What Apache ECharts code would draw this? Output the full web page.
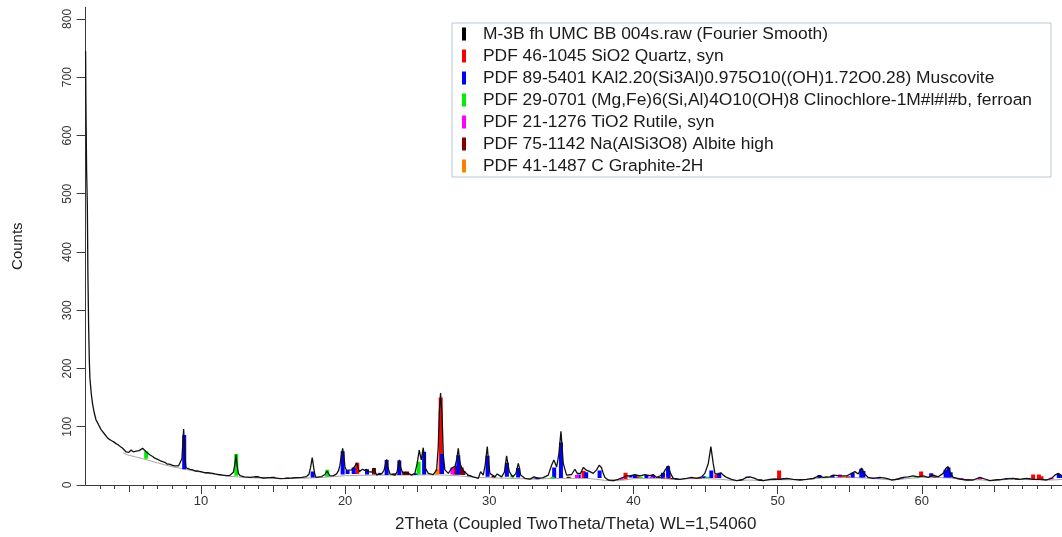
<!DOCTYPE html>
<html>
<head>
<meta charset="utf-8">
<title>XRD M-3B</title>
<script src="https://cdn.jsdelivr.net/npm/echarts@6.0.0/dist/echarts.min.js"></script>
<style>
    html, body { margin: 0; padding: 0; background: #fff; }
    #xrd { width: 1062px; height: 537px; }
</style>
</head>
<body>
<div id="xrd"></div>
<script>
// 测量曲线 (2Theta, Counts)
var curve = [[2.0,745],[2.02,660],[2.07,540],[2.12,480],[2.16,362],[2.21,272],[2.26,212],[2.30,183],[2.40,155],[2.49,138],[2.6,124],[2.72,112],[2.89,104],[3.07,95],[3.2,92],[3.3,88],[3.43,86],[3.55,80],[3.65,81],[3.8,76],[3.95,74],[4.11,71],[4.25,69],[4.4,66],[4.57,63],[4.7,61],[4.8,57],[4.9,59],[5.0,56],[5.15,60],[5.3,57],[5.4,60],[5.5,58],[5.62,61],[5.72,59],[5.84,62],[5.95,63],[6.07,61],[6.2,57],[6.30,54],[6.45,52],[6.55,49],[6.65,49],[6.8,46],[7.0,44],[7.15,42],[7.34,40],[7.5,39],[7.65,36],[7.81,36],[8.0,34],[8.15,33],[8.27,32],[8.45,33],[8.57,35],[8.68,45],[8.74,70],[8.80,96],[8.85,70],[8.90,45],[8.96,30],[9.1,28],[9.25,27],[9.43,26],[9.6,24],[9.8,24],[10.0,23],[10.12,23],[10.3,21],[10.5,21],[10.81,20],[11.0,19],[11.2,18],[11.51,17],[11.75,16],[11.97,16],[12.1,18],[12.25,22],[12.35,35],[12.43,52],[12.5,35],[12.6,20],[12.71,16],[13.0,14],[13.4,13],[13.86,14.5],[14.1,13],[14.33,12],[14.7,12.5],[15.02,12.6],[15.48,11],[15.94,11.5],[16.3,12],[16.64,12.6],[17.0,13],[17.33,14.5],[17.5,19],[17.6,30],[17.72,47],[17.82,30],[17.9,18],[17.98,13],[18.37,14.5],[18.6,18],[18.75,24],[18.95,15.5],[19.2,16],[19.41,19],[19.55,25],[19.64,34],[19.75,52],[19.83,63],[19.92,48],[19.99,31],[20.1,25],[20.22,25],[20.45,26],[20.61,30],[20.72,33],[20.82,38],[20.9,30],[20.98,23],[21.21,27],[21.35,25],[21.49,27],[21.6,23],[21.72,20],[21.85,22],[22.0,29],[22.1,22],[22.19,17],[22.37,20],[22.53,19],[22.7,25],[22.8,36],[22.88,44],[22.97,30],[23.11,19],[23.3,18],[23.46,17],[23.6,22],[23.68,33],[23.76,43],[23.85,30],[23.99,21],[24.1,23],[24.22,21],[24.4,20],[24.61,17],[24.84,20],[25.0,37],[25.14,60],[25.28,43],[25.42,64],[25.56,29],[25.77,20],[26.11,18],[26.35,26],[26.46,66],[26.53,123],[26.62,158],[26.72,123],[26.81,52],[26.92,26],[27.16,20],[27.39,29],[27.62,32],[27.75,45],[27.85,63],[27.93,45],[28.01,34],[28.2,25],[28.54,17],[28.89,14],[29.24,11.5],[29.4,23],[29.58,17],[29.72,35],[29.86,66],[29.95,40],[30.04,20],[30.39,14],[30.55,19],[30.85,14],[31.05,22],[31.2,50],[31.3,35],[31.39,23],[31.62,14],[31.85,20],[32.01,37],[32.1,28],[32.17,17],[32.47,11.5],[32.82,10],[33.1,14],[33.4,11.5],[33.74,12.6],[34.09,17],[34.32,34],[34.48,43],[34.67,31],[34.83,54],[34.97,92],[35.05,65],[35.13,37],[35.36,17],[35.71,18],[35.94,27],[36.1,20],[36.33,20],[36.52,30],[36.7,26],[36.98,23],[37.21,20],[37.44,26],[37.62,34],[37.78,30],[37.9,20],[38.02,13],[38.25,8.6],[38.6,7.4],[38.94,9.7],[39.29,13],[39.52,15.5],[39.75,15.5],[40.1,18],[40.45,15.5],[40.79,18],[41.14,16],[41.37,18],[41.6,13],[41.83,15.5],[42.07,20],[42.2,26],[42.41,33],[42.57,20],[42.76,11.4],[43.22,9.7],[43.68,11.4],[44.03,13],[44.38,11.4],[44.72,14],[44.95,20],[45.19,37],[45.37,66],[45.53,37],[45.65,20],[45.88,18],[46.06,21],[46.23,17],[46.46,13],[46.8,9.7],[47.15,7.4],[47.5,8.6],[47.84,13],[48.08,14],[48.42,11.4],[48.65,8.6],[49.0,7.4],[49.46,9.7],[49.81,10.3],[50.16,9.7],[50.62,11.4],[51.08,9.7],[51.54,8.6],[52.0,9.7],[52.47,11.4],[52.88,15.5],[53.16,13],[53.62,14],[53.85,17],[54.32,15.5],[54.78,15.5],[55.13,20],[55.36,23],[55.59,19],[55.82,29],[56.0,20],[56.28,13],[56.63,11.4],[57.09,13],[57.55,11.4],[57.9,8.6],[58.25,9.7],[58.71,13],[59.06,14],[59.4,15.5],[59.75,14],[60.1,15.5],[60.44,13],[60.79,17],[61.14,14],[61.48,20],[61.67,28.6],[61.83,31.5],[61.99,20],[62.18,13],[62.64,10.3],[63.1,8.6],[63.56,8.6],[64.03,13],[64.37,10.3],[64.72,7.4],[65.07,8.6],[65.53,9.7],[65.99,11],[66.34,11.4],[66.8,9.7],[67.26,11.4],[67.72,9.7],[68.19,9.7],[68.65,8.6],[69.0,11.4],[69.23,17],[69.46,20],[69.7,16],[70.0,14]];

// 背景线
var background = [[4.6,55],[5,51],[5.5,48],[6,45],[6.5,41.5],[7,38],[7.5,34.5],[8,31.5],[8.5,29],[9,26.5],[9.5,24],[10,22],[10.5,20],[11,18],[11.5,16.5],[12,15],[12.5,14],[13,13],[14,12],[15,11.5],[16,11],[17,11.5],[18,12.5],[19,14],[20,16],[22,17],[24,17],[26,17.5],[27,17],[28,15.5],[29,13],[30,12.5],[32,11],[33,10],[34,11],[35,11.5],[36,11.5],[37,11],[38,8],[38.6,7],[39.5,9],[40,11],[42,11],[43,9.5],[44,11],[45,11],[46,10],[47,7.5],[48,8.5],[49,7.5],[50,9],[51,9],[52,9.5],[53,12],[54,13],[55,13],[56,12],[57,10.5],[58,8.5],[59,11],[60,13],[61,13],[62,12],[63,8.5],[64,9],[64.7,7.4],[65.5,8.5],[66,10],[67,9.5],[68,9],[69,8.5],[70,10]];

// 物相标线 [2Theta, 底, 顶]
var quartz = [[20.84,19,38],[26.63,19,150],[36.54,12,24],[39.45,10,21],[40.29,12,15],[42.45,11,18],[45.75,12,18],[50.1,9,25],[54.87,13,15],[59.95,14,23],[64.03,10,13],[67.72,10,18],[68.12,10,18],[68.3,10,15]];
var muscovite = [[8.84,27,86],[17.75,13,23],[19.83,18,58],[20.17,19,25],[20.59,19,30],[21.52,18,27],[22.37,17,19],[22.88,17,43],[23.76,17,42],[24.9,17,20],[25.48,18,57],[26.72,19,53],[27.85,18,51],[28.6,15,17],[29.88,14,50],[31.22,14,38],[32.0,13,29],[33.35,10,13],[34.5,12,30],[34.97,12,73],[36.2,12,18],[36.72,12,22],[37.65,12,25],[39.8,13,16],[40.1,12,17],[40.9,12,17],[41.35,12,17],[42.05,11,21],[42.4,11,32],[43.0,9,11],[44.9,12,15],[45.4,12,25],[45.95,12,21],[47.9,12,14],[50.4,10,12],[52.9,12,17],[53.8,13,16],[55.2,13,21],[55.8,13,28],[55.95,13,24],[57.0,11,13],[58.6,11,13],[60.65,14,20],[61.65,13,26],[61.85,13,30],[62.0,13,22],[65.9,10,12],[67.4,10,12],[69.5,12,19],[69.75,12,17]];
var clinochlore = [[6.2,45,58],[12.45,16,53],[18.76,14,26],[25.1,18,40],[31.6,13,17],[34.39,11,14],[40.5,12,14],[45.1,12,14],[53.4,13,15],[59.6,13,15],[67.1,10,12]];
var rutile = [[27.44,18,30],[36.08,12,17],[39.19,9,11],[41.24,12,14],[44.04,11,13],[54.32,13,18],[56.64,11,13],[62.74,10,12],[64.04,10,12],[69.0,10,13]];
var albite = [[13.87,13,15],[15.0,12,14],[15.95,11,13],[22.0,18,29],[23.41,17,20],[24.1,17,23],[24.3,17,23],[27.6,18,30],[27.75,18,33],[27.92,18,34],[28.08,18,30],[28.2,17,24],[30.3,13,16],[33.2,11,13],[35.5,12,14],[38.6,7,9],[41.8,12,14],[42.7,10,12],[44.6,11,13],[47.5,8,10],[48.8,8,10],[50.6,10,12],[51.6,8,10],[52.4,10,12],[58.3,9,11],[60.9,13,15],[63.2,8,10],[65.3,8,10],[66.6,9,11]];
var graphite = [[26.38,18,27],[42.22,11,13],[44.39,11,13],[54.54,13,15]];

var legendNames = [
    'M-3B fh UMC BB 004s.raw (Fourier Smooth)',
    'PDF 46-1045 SiO2 Quartz, syn',
    'PDF 89-5401 KAl2.20(Si3Al)0.975O10((OH)1.72O0.28) Muscovite',
    'PDF 29-0701 (Mg,Fe)6(Si,Al)4O10(OH)8 Clinochlore-1M#l#l#b, ferroan',
    'PDF 21-1276 TiO2 Rutile, syn',
    'PDF 75-1142 Na(AlSi3O8) Albite high',
    'PDF 41-1487 C Graphite-2H'
];

// 坐标轴刻度
var xLabels = [10, 20, 30, 40, 50, 60];
var xMidTicks = [5, 15, 25, 35, 45, 55, 65];
var xMinorTicks = [3,4,5,6,7,8,9,10,11,12,13,14,15,16,17,18,19,20,21,22,23,24,25,26,27,28,29,30,31,32,33,34,35,36,37,38,39,40,41,42,43,44,45,46,47,48,49,50,51,52,53,54,55,56,57,58,59,60,61,62,63,64,65,66,67,68,69];
var yLabels = [0, 100, 200, 300, 400, 500, 600, 700, 800];
var yMinorTicks = [];
for (var i = 0; i <= 81; i++) {
    yMinorTicks.push(i * 10);
}

var font = 'Liberation Sans, Arial, sans-serif';
var axisColor = '#3a3a3a';

// 物相标线: 从底到顶的细竖条
function stick(params, api) {
    var lo = api.coord([api.value(0), api.value(1)]);
    var hi = api.coord([api.value(0), api.value(2)]);
    return {
        type: 'rect',
        shape: {x: hi[0] - 2, y: hi[1], width: 4, height: lo[1] - hi[1]},
        style: {fill: api.visual('color')}
    };
}

function phase(name, data, color, z) {
    return {
        name: name,
        type: 'custom',
        renderItem: stick,
        data: data,
        encode: {x: 0, y: [1, 2]},
        itemStyle: {color: color},
        z: z,
        clip: true
    };
}

function xAxisOf(ticks, len, withLabel) {
    return {
        type: 'value', min: 2, max: 70, position: 'bottom', gridIndex: 0,
        axisLine: {show: withLabel, onZero: false, lineStyle: {color: axisColor, width: 1}},
        axisTick: {show: true, customValues: ticks, length: len, lineStyle: {color: axisColor}},
        axisLabel: {show: withLabel, customValues: xLabels, fontSize: 13, color: '#333', margin: 10},
        splitLine: {show: false},
        name: withLabel ? '2Theta (Coupled TwoTheta/Theta) WL=1,54060' : '',
        nameLocation: 'middle',
        nameGap: 31,
        nameTextStyle: {fontSize: 17, color: '#222'}
    };
}

var chart = echarts.init(document.getElementById('xrd'));

var option = {
    animation: false,
    textStyle: {fontFamily: font},
    grid: {left: 85.6, right: -4, top: 7.3, bottom: 52, outerBoundsMode: 'none', containLabel: false},
    legend: {
        data: legendNames,
        orient: 'vertical',
        left: 452,
        top: 23,
        icon: 'rect',
        itemWidth: 4,
        itemHeight: 13,
        itemGap: 0,
        padding: [0, 19, 0, 10],
        backgroundColor: '#fff',
        borderColor: '#b9c6d6',
        borderWidth: 1,
        selectedMode: false,
        textStyle: {fontSize: 17.4, color: '#1a1a1a', lineHeight: 22, padding: [0, 0, 0, 12]}
    },
    xAxis: [
        xAxisOf(xLabels, 9, true),
        xAxisOf(xMidTicks, 7, false),
        xAxisOf(xMinorTicks, 4, false)
    ],
    yAxis: [
        {
            type: 'value', min: 0, max: 820,
            axisLine: {show: true, lineStyle: {color: axisColor, width: 1}},
            axisTick: {show: true, customValues: yLabels, length: 9, lineStyle: {color: axisColor}},
            axisLabel: {customValues: yLabels, rotate: 90, fontSize: 12, color: '#333', margin: 12},
            splitLine: {show: false},
            name: 'Counts',
            nameLocation: 'middle',
            nameGap: 60,
            nameTextStyle: {fontSize: 15, color: '#222'}
        },
        {
            type: 'value', min: 0, max: 820,
            axisLine: {show: false},
            axisTick: {show: true, customValues: yMinorTicks, length: 5, lineStyle: {color: axisColor}},
            axisLabel: {show: false},
            splitLine: {show: false}
        }
    ],
    series: [
        {
            name: legendNames[0],
            type: 'line',
            data: curve,
            showSymbol: false,
            color: '#000',
            lineStyle: {color: '#111', width: 1.3},
            z: 5
        },
        {
            name: 'background',
            type: 'line',
            data: background,
            showSymbol: false,
            lineStyle: {color: '#a6a6a6', width: 1},
            z: 1
        },
        phase(legendNames[1], quartz, '#ff0000', 3),
        phase(legendNames[2], muscovite, '#0000ff', 3),
        phase(legendNames[3], clinochlore, '#00ee00', 3),
        phase(legendNames[4], rutile, '#ff00ff', 3),
        phase(legendNames[5], albite, '#800000', 2),
        phase(legendNames[6], graphite, '#ff8000', 3)
    ]
};

chart.setOption(option);
</script>
</body>
</html>
